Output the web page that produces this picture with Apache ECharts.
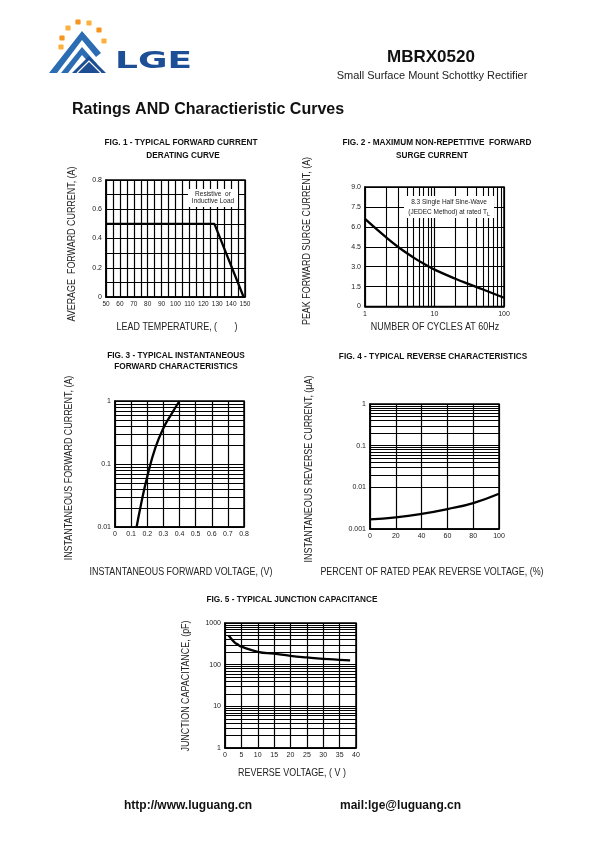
<!DOCTYPE html>
<html><head><meta charset="utf-8">
<script src="https://cdn.jsdelivr.net/npm/echarts@6/dist/echarts.min.js"></script>
<style>html,body{margin:0;padding:0;background:#fff}#c{width:595px;height:842px}</style>
</head><body><div id="c"></div>
<script>
// ---- data ----
const fig1Temp = [50, 128, 149];
const fig1Current = [0.5, 0.5, 0];
const fig1XTicks = [50, 60, 70, 80, 90, 100, 110, 120, 130, 140, 150];
const fig1YTicks = [0, 0.2, 0.4, 0.6, 0.8];

const fig2Cycles = [1, 2, 3, 5, 8, 10, 20, 30, 50, 100];
const fig2Surge = [6.6, 5.22, 4.48, 3.68, 3.05, 2.78, 2.09, 1.72, 1.28, 0.66];
const fig2XTicks = [1, 10, 100];
const fig2YTicks = [0, 1.5, 3.0, 4.5, 6.0, 7.5, 9.0];

const fig3Voltage = [0.134, 0.16, 0.2, 0.25, 0.3, 0.35, 0.4];
const fig3Current = [0.01, 0.022, 0.063, 0.18, 0.37, 0.62, 1.0];
const fig3XTicks = [0, 0.1, 0.2, 0.3, 0.4, 0.5, 0.6, 0.7, 0.8];
const fig3YTicks = [0.01, 0.1, 1];

const fig4Percent = [0, 20, 40, 60, 80, 100];
const fig4Current = [0.0017, 0.0019, 0.0023, 0.003, 0.0042, 0.007];
const fig4XTicks = [0, 20, 40, 60, 80, 100];
const fig4YTicks = [0.001, 0.01, 0.1, 1];

const fig5Voltage = [1.1, 2, 3, 4, 5, 10, 15, 20, 25, 30, 35, 38.2];
const fig5Cap = [500, 410, 340, 300, 270, 204, 183, 163, 149, 138, 131, 127];
const fig5XTicks = [0, 5, 10, 15, 20, 25, 30, 35, 40];
const fig5YTicks = [1, 10, 100, 1000];

// ---- helpers ----
const zip = (a, b) => a.map((v, i) => [v, b[i]]);
function logMinors(min, max) {
  const out = [];
  for (let d = min; d < max * 0.999; d *= 10) {
    for (let k = 2; k <= 9; k++) out.push(+(d * k).toPrecision(3));
  }
  return out;
}
const BLACK = '#000';
const FONT = 'Liberation Sans, Arial, sans-serif';
const gridLine = { color: BLACK, width: 1.2 };
const fmt = v => (v === 0 ? '0' : String(+(+v).toPrecision(3)));

function linAxis(gi, ticks, extra) {
  return Object.assign({
    type: 'value', gridIndex: gi,
    min: ticks[0], max: ticks[ticks.length - 1], interval: ticks[1] - ticks[0],
    axisLine: { show: true, lineStyle: { color: BLACK, width: 1.5 } },
    axisTick: { show: false },
    splitLine: { show: true, lineStyle: gridLine },
    axisLabel: { fontSize: 7, color: '#222', fontFamily: FONT, margin: 4, formatter: fmt, showMinLabel: true, showMaxLabel: true }
  }, extra || {});
}
function logAxis(gi, ticks, extra) {
  return Object.assign({
    type: 'log', logBase: 10, gridIndex: gi,
    min: ticks[0], max: ticks[ticks.length - 1],
    axisLine: { show: true, lineStyle: { color: BLACK, width: 1.5 } },
    axisTick: { show: false },
    splitLine: { show: true, lineStyle: gridLine },
    axisLabel: { fontSize: 7, color: '#222', fontFamily: FONT, margin: 4, formatter: fmt }
  }, extra || {});
}
function minorLines(key, vals) {
  return {
    silent: true, symbol: ['none', 'none'], animation: false,
    label: { show: false },
    lineStyle: { type: 'solid', color: BLACK, width: 1.1 },
    emphasis: { disabled: true },
    data: vals.map(v => ({ [key]: v }))
  };
}
function curve(gi, data, smooth, markLine) {
  const s = {
    type: 'line', xAxisIndex: gi, yAxisIndex: gi, data: data,
    smooth: smooth, symbol: 'none', animation: false,
    lineStyle: { color: BLACK, width: 2.3 }, z: 5
  };
  if (markLine) s.markLine = markLine;
  return s;
}

// ---- graphic texts ----
function txt(text, x, y, size, opts) {
  opts = opts || {};
  return {
    type: 'text', x: x, y: y, rotation: opts.rot || 0, scaleX: opts.sx || 1, z: 50,
    style: {
      text: text, x: 0, y: 0, fill: opts.color || '#111',
      fontSize: size, fontFamily: opts.family || FONT, fontWeight: opts.bold ? 'bold' : 'normal',
      align: opts.align || 'center', verticalAlign: 'middle',
      textAlign: opts.align || 'center', textVerticalAlign: 'middle'
    }
  };
}
const vName = (t, x, y) => txt(t, x, y, 10.5, { rot: Math.PI / 2, sx: 0.85, color: '#222' });
const hName = (t, x, y) => txt(t, x, y, 10.5, { sx: 0.85, color: '#222' });
const figTitle = (t, x, y) => txt(t, x, y, 8.5, { bold: true, sx: 0.97 });

const graphics = [];
// logo dots
const dots = [[61, 47], [62, 38], [68, 28], [78, 22], [89, 23], [99, 30], [104, 41]];
dots.forEach((d, i) => graphics.push({
  type: 'rect', shape: { x: d[0] - 2.6, y: d[1] - 2.6, width: 5.2, height: 5.2, r: 1 },
  style: { fill: i % 2 ? '#f7941d' : '#fbb040' }, z: 40
}));
// logo mountain
graphics.push({ type: 'polygon', shape: { points: [[49, 73], [82, 31], [101, 53], [96, 57], [82, 40], [57, 73]] }, style: { fill: '#2b6cb3' }, z: 40 });
graphics.push({ type: 'polygon', shape: { points: [[61, 73], [82, 47], [97, 64], [93, 67], [82, 55], [68, 73]] }, style: { fill: '#2b6cb3' }, z: 40 });
graphics.push({ type: 'polygon', shape: { points: [[72, 73], [89, 56], [106, 73]] }, style: { fill: '#1d4e94' }, z: 41 });
graphics.push({ type: 'polyline', shape: { points: [[77, 73], [89, 61], [101, 73]] }, style: { stroke: '#ffffff', lineWidth: 1.2, fill: null }, z: 42 });
graphics.push({
  type: 'text', x: 115, y: 62, scaleX: 1.6, scaleY: 1, z: 40,
  style: { text: 'LGE', x: 0, y: 0, fill: '#1d4f96', fontSize: 22.5, fontWeight: 'bold', fontFamily: 'DejaVu Sans, sans-serif', align: 'left', verticalAlign: 'middle', textAlign: 'left', textVerticalAlign: 'middle' }
});
// header
graphics.push(txt('MBRX0520', 431, 57, 17, { bold: true }));
graphics.push(txt('Small Surface Mount Schottky Rectifier', 432, 76, 11, { color: '#222' }));
graphics.push(txt('Ratings AND Charactieristic Curves', 72, 110, 16, { bold: true, align: 'left' }));
// footer
graphics.push(txt('http://www.luguang.cn', 124, 806, 12, { bold: true, align: 'left' }));
graphics.push(txt('mail:lge@luguang.cn', 340, 806, 12, { bold: true, align: 'left' }));
// titles
graphics.push(figTitle('FIG. 1 - TYPICAL FORWARD CURRENT', 181, 143));
graphics.push(figTitle('DERATING CURVE', 183, 156));
graphics.push(figTitle('FIG. 2 - MAXIMUM NON-REPETITIVE  FORWARD', 437, 143));
graphics.push(figTitle('SURGE CURRENT', 432, 156));
graphics.push(figTitle('FIG. 3 - TYPICAL INSTANTANEOUS', 176, 356));
graphics.push(figTitle('FORWARD CHARACTERISTICS', 176, 367));
graphics.push(figTitle('FIG. 4 - TYPICAL REVERSE CHARACTERISTICS', 433, 357));
graphics.push(figTitle('FIG. 5 - TYPICAL JUNCTION CAPACITANCE', 292, 600));
// axis names
graphics.push(vName('AVERAGE  FORWARD CURRENT, (A)', 72, 244));
graphics.push(hName('LEAD TEMPERATURE, (       )', 177, 327));
graphics.push(vName('PEAK FORWARD SURGE CURRENT, (A)', 307, 241));
graphics.push(hName('NUMBER OF CYCLES AT 60Hz', 435, 327));
graphics.push(vName('INSTANTANEOUS FORWARD CURRENT, (A)', 69, 468));
graphics.push(hName('INSTANTANEOUS FORWARD VOLTAGE, (V)', 181, 572));
graphics.push(vName('INSTANTANEOUS REVERSE CURRENT, (\u03bcA)', 309, 469));
graphics.push(hName('PERCENT OF RATED PEAK REVERSE VOLTAGE, (%)', 432, 572));
graphics.push(vName('JUNCTION CAPACITANCE, (pF)', 186, 686));
graphics.push(hName('REVERSE VOLTAGE, ( V )', 292, 773));
// annotations
graphics.push({ type: 'rect', shape: { x: 188, y: 189, width: 50, height: 18 }, style: { fill: '#fff' }, z: 45 });
graphics.push(txt('Resistive  or\nInductive Load', 213, 198, 6.5, { color: '#222' }));
graphics.push({ type: 'rect', shape: { x: 404, y: 196, width: 90, height: 22 }, style: { fill: '#fff' }, z: 45 });
graphics.push({
  type: 'text', x: 449, y: 207, z: 50,
  style: {
    text: '8.3 Single Half Sine-Wave\n(JEDEC Method) at rated T{s|L}', x: 0, y: 0, fill: '#222',
    fontSize: 6.5, fontFamily: FONT, align: 'center', verticalAlign: 'middle', textAlign: 'center', textVerticalAlign: 'middle',
    lineHeight: 10, rich: { s: { fontSize: 5, verticalAlign: 'bottom', padding: [3, 0, 0, 0] } }
  }
});

const option = {
  backgroundColor: '#fff',
  animation: false,
  grid: [
    { left: 106, top: 180, width: 139, height: 117, show: true, borderColor: BLACK, borderWidth: 1.5 },
    { left: 365, top: 187, width: 139, height: 119.5, show: true, borderColor: BLACK, borderWidth: 1.5 },
    { left: 115, top: 401, width: 129, height: 126, show: true, borderColor: BLACK, borderWidth: 1.5 },
    { left: 370, top: 404, width: 129, height: 125, show: true, borderColor: BLACK, borderWidth: 1.5 },
    { left: 225, top: 623, width: 131, height: 125, show: true, borderColor: BLACK, borderWidth: 1.5 }
  ],
  xAxis: [
    linAxis(0, fig1XTicks, {
      minorTick: { show: false, splitNumber: 2 }, minorSplitLine: { show: true, lineStyle: gridLine },
      axisLabel: { fontSize: 6.5, color: '#222', fontFamily: FONT, margin: 4, formatter: fmt }
    }),
    logAxis(1, fig2XTicks),
    linAxis(2, fig3XTicks),
    linAxis(3, fig4XTicks),
    linAxis(4, fig5XTicks)
  ],
  yAxis: [
    linAxis(0, fig1YTicks, { minorTick: { show: false, splitNumber: 2 }, minorSplitLine: { show: true, lineStyle: gridLine } }),
    linAxis(1, fig2YTicks, { axisLabel: { fontSize: 7, color: '#222', fontFamily: FONT, margin: 4, formatter: v => (v === 0 ? '0' : (+v).toFixed(1)) } }),
    logAxis(2, fig3YTicks),
    logAxis(3, fig4YTicks),
    logAxis(4, fig5YTicks)
  ],
  series: [
    curve(0, zip(fig1Temp, fig1Current), false),
    curve(1, zip(fig2Cycles, fig2Surge), true, minorLines('xAxis', logMinors(fig2XTicks[0], fig2XTicks[fig2XTicks.length - 1]))),
    curve(2, zip(fig3Voltage, fig3Current), true, minorLines('yAxis', logMinors(fig3YTicks[0], fig3YTicks[fig3YTicks.length - 1]))),
    curve(3, zip(fig4Percent, fig4Current), true, minorLines('yAxis', logMinors(fig4YTicks[0], fig4YTicks[fig4YTicks.length - 1]))),
    curve(4, zip(fig5Voltage, fig5Cap), true, minorLines('yAxis', logMinors(fig5YTicks[0], fig5YTicks[fig5YTicks.length - 1])))
  ],
  graphic: { elements: graphics }
};
const chart = echarts.init(document.getElementById('c'), null, { renderer: 'canvas' });
chart.setOption(option);
</script>
</body></html>
